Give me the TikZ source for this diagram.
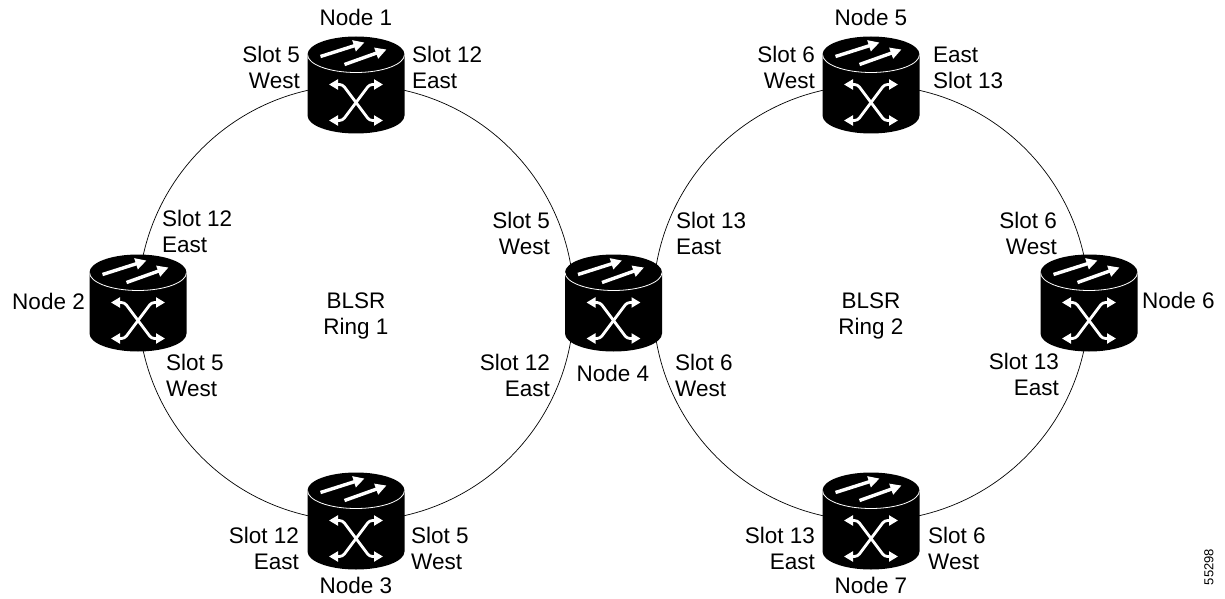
\documentclass[tikz,border=0pt]{standalone}
\usepackage{fontspec}
\setmainfont{Liberation Sans}
\usetikzlibrary{arrows.meta,backgrounds}
\tikzset{nodeicon/.style={minimum width=97, minimum height=97, inner sep=0pt,
  path picture={
    \begin{scope}[shift={(path picture bounding box.center)}]
      \fill[black] (-48.5,30.5) -- (-48.5,-30.5) arc (180:360:48.5 and 18)
        -- (48.5,30.5) arc (0:180:48.5 and 18) -- cycle;
      \draw[white,line width=0.8pt] (-48.5,30.5) arc (180:360:48.5 and 18);
      \draw[white,line width=3.4pt,-{Triangle[length=11pt,width=11pt]}] (-35.5,28.5) -- (8.5,42.5);
      \draw[white,line width=3.4pt,-{Triangle[length=11pt,width=11pt]}] (-11.5,20.5) -- (30.5,35.5);
      \draw[white,line width=2.8pt,rounded corners=3pt,{Triangle[length=9pt,width=10pt]}-{Triangle[length=9pt,width=10pt]}]
        (-27,0.5) -- (-13.5,0.5) -- (13.5,-35.5) -- (27,-35.5);
      \draw[white,line width=2.8pt,rounded corners=3pt,{Triangle[length=9pt,width=10pt]}-{Triangle[length=9pt,width=10pt]}]
        (27,0.5) -- (13.5,0.5) -- (-13.5,-35.5) -- (-27,-35.5);
    \end{scope}}}}
\begin{document}
\begin{tikzpicture}[x=1pt,y=1pt,every node/.style={inner sep=0pt,font=\fontsize{22.5}{26}\selectfont}]
  \useasboundingbox (0,0) rectangle (1225,598);
  % network elements
  \foreach \name/\x/\y in {n1/356/513,n2/138/295,n3/356/77,n4/613.5/295,n5/871/513,n6/1089/295,n7/871/77}
    \node[nodeicon] (\name) at (\x,\y) {};
  \coordinate (ring1e) at (574,295);
  \coordinate (ring2w) at (653,295);
  % the two rings
  \begin{pgfonlayer}{background}
    \draw[line width=0.7pt] (n1.center) to[bend right=45] (n2.center) to[bend right=45] (n3.center)
      to[bend right=45] (ring1e) to[bend right=45] (n1.center);
    \draw[line width=0.7pt] (n5.center) to[bend right=45] (ring2w) to[bend right=45] (n7.center)
      to[bend right=45] (n6.center) to[bend right=45] (n5.center);
  \end{pgfonlayer}
  % ring 1 (two-line labels sit on the baseline of their second line)
  \node[anchor=base] (l1) at (356,572) {Node 1};
  \node[anchor=base east,align=right] (s1w) at (300,509) {Slot 5\\West};
  \node[anchor=base west,align=left] (s1e) at (412,509) {Slot 12\\East};
  \node[anchor=base east] (l2) at (85,289) {Node 2};
  \node[anchor=base west,align=left] (s2e) at (162,345) {Slot 12\\East};
  \node[anchor=base west,align=left] (s2w) at (166,202) {Slot 5\\West};
  \node[anchor=base] (l3) at (356,5) {Node 3};
  \node[anchor=base east,align=right] (s3e) at (299,29) {Slot 12\\East};
  \node[anchor=base west,align=left] (s3w) at (411,29) {Slot 5\\West};
  \node[anchor=base,align=center] (r1) at (356,264) {BLSR\\Ring 1};
  % node 4
  \node[anchor=base] (l4) at (613,217) {Node 4};
  \node[anchor=base east,align=right] (s4w) at (550,344) {Slot 5\\West};
  \node[anchor=base east,align=right] (s4e) at (550,202) {Slot 12\\East};
  \node[anchor=base west,align=left] (s4e2) at (676,344) {Slot 13\\East};
  \node[anchor=base west,align=left] (s4w2) at (675,202) {Slot 6\\West};
  % ring 2
  \node[anchor=base] (l5) at (871,572) {Node 5};
  \node[anchor=base east,align=right] (s5w) at (815,509) {Slot 6\\West};
  \node[anchor=base west,align=left] (s5e) at (933,509) {East\\Slot 13};
  \node[anchor=base west] (l6) at (1142,290) {Node 6};
  \node[anchor=base east,align=right] (s6w) at (1057,344) {Slot 6\\West};
  \node[anchor=base east,align=right] (s6e) at (1059,203) {Slot 13\\East};
  \node[anchor=base] (l7) at (871,5) {Node 7};
  \node[anchor=base east,align=right] (s7e) at (815,29) {Slot 13\\East};
  \node[anchor=base west,align=left] (s7w) at (928,29) {Slot 6\\West};
  \node[anchor=base,align=center] (r2) at (871,264) {BLSR\\Ring 2};
  \node[rotate=90,font=\fontsize{13}{15}\selectfont] (fig) at (1209,31) {55298};
\end{tikzpicture}
\end{document}
